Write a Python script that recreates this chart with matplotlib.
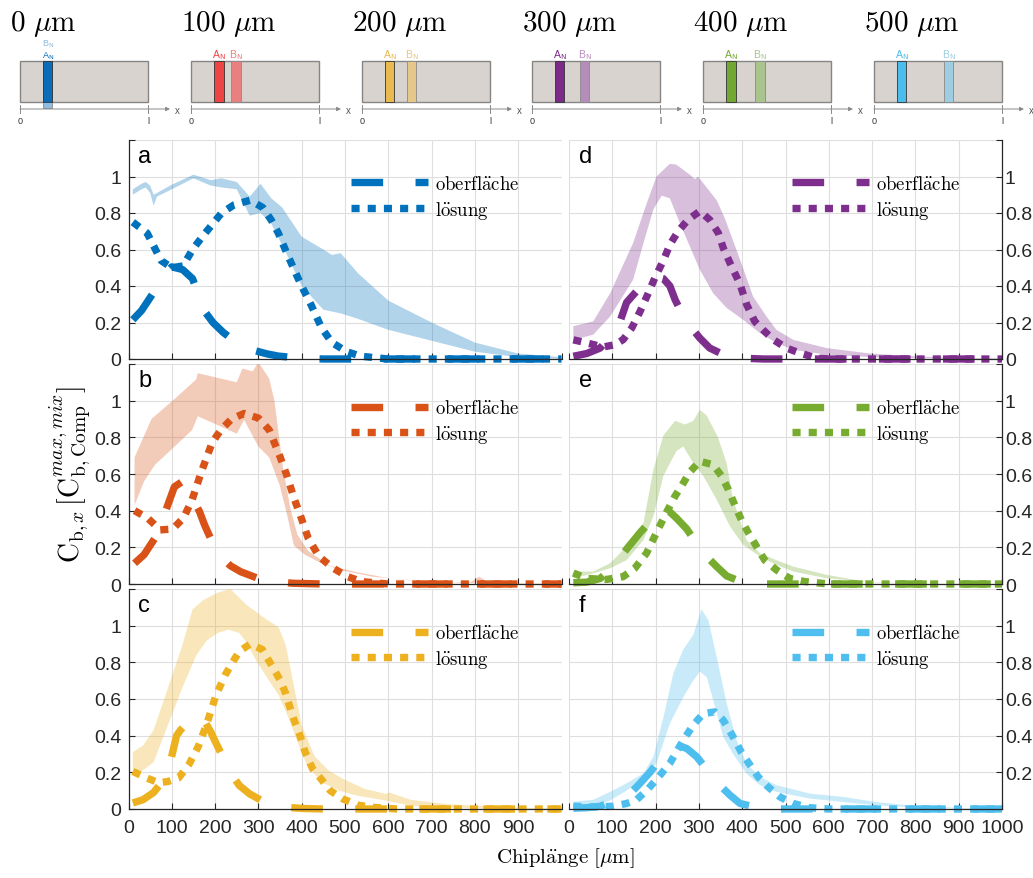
import numpy as np
import matplotlib
matplotlib.use("Agg")
import matplotlib.pyplot as plt
from matplotlib.patches import Rectangle

plt.rcParams["font.family"] = ["Liberation Sans", "DejaVu Sans"]
plt.rcParams["mathtext.fontset"] = "cm"

# ---------------- data ----------------
colors = ["#0072BD", "#D95319", "#EDB120", "#7E2F8E", "#77AC30", "#4DBEEE"]
letters = ["a", "b", "c", "d", "e", "f"]

# panel a
band_x_hi_a = [10, 30, 40, 50, 58, 66, 100, 150, 190, 215, 250, 280, 305, 330, 355, 400, 450, 470, 490, 530, 600, 700, 800, 900, 1000]
band_hi_a = [0.93, 0.96, 0.97, 0.95, 0.90, 0.91, 0.955, 1.01, 0.98, 0.99, 0.97, 0.89, 0.96, 0.88, 0.83, 0.67, 0.60, 0.57, 0.58, 0.47, 0.32, 0.20, 0.09, 0.03, 0.01]
band_x_lo_a = [10, 30, 40, 50, 58, 66, 100, 150, 190, 215, 250, 280, 305, 330, 360, 400, 450, 490, 530, 600, 700, 800, 900, 1000]
band_lo_a = [0.90, 0.93, 0.94, 0.91, 0.84, 0.89, 0.93, 0.99, 0.95, 0.94, 0.93, 0.785, 0.80, 0.74, 0.60, 0.40, 0.27, 0.25, 0.22, 0.16, 0.10, 0.04, 0.01, 0.0]
surf_x_a = [10, 30, 58, 80, 100, 125, 148, 160, 173, 195, 219, 250, 285, 320, 346, 400, 450, 1000]
surf_a = [0.215, 0.265, 0.365, 0.46, 0.505, 0.49, 0.44, 0.36, 0.27, 0.20, 0.145, 0.09, 0.05, 0.028, 0.016, 0.004, 0.0, 0.0]
sol_x_a = [10, 43, 58, 75, 100, 126, 148, 172, 215, 244, 281, 310, 330, 346, 362, 375, 392, 404, 421, 446, 470, 504, 537, 600, 1000]
sol_a = [0.75, 0.69, 0.62, 0.54, 0.50, 0.51, 0.60, 0.675, 0.80, 0.845, 0.87, 0.83, 0.76, 0.69, 0.60, 0.53, 0.44, 0.38, 0.30, 0.17, 0.09, 0.04, 0.015, 0.0, 0.0]

# panel b
band_x_hi_b = [14, 53, 102, 156, 160, 250, 263, 287, 300, 325, 337, 357, 374, 390, 415, 465, 522, 605, 700, 790, 810, 830, 900, 1000]
band_hi_b = [0.69, 0.90, 1.00, 1.115, 1.15, 1.10, 1.175, 1.16, 1.21, 1.12, 1.0, 0.63, 0.41, 0.27, 0.18, 0.10, 0.067, 0.03, 0.013, 0.01, 0.04, 0.01, 0.005, 0.0]
band_x_lo_b = [14, 36, 61, 102, 147, 160, 250, 267, 300, 325, 349, 366, 382, 407, 440, 489, 563, 650, 800, 1000]
band_lo_b = [0.43, 0.56, 0.65, 0.74, 0.84, 0.915, 0.82, 0.895, 0.75, 0.69, 0.54, 0.38, 0.21, 0.16, 0.12, 0.076, 0.04, 0.02, 0.005, 0.0]
surf_x_b = [14, 36, 61, 86, 106, 125, 147, 164, 176, 195, 209, 235, 259, 300, 333, 380, 450, 1000]
surf_b = [0.113, 0.16, 0.25, 0.40, 0.53, 0.56, 0.47, 0.395, 0.32, 0.22, 0.16, 0.10, 0.067, 0.03, 0.013, 0.004, 0.0, 0.0]
sol_x_b = [14, 44, 73, 102, 127, 147, 168, 193, 213, 238, 267, 300, 325, 349, 366, 382, 399, 415, 440, 473, 506, 539, 600, 1000]
sol_b = [0.40, 0.36, 0.295, 0.30, 0.36, 0.46, 0.61, 0.77, 0.84, 0.90, 0.93, 0.905, 0.84, 0.70, 0.59, 0.47, 0.36, 0.25, 0.15, 0.086, 0.04, 0.013, 0.0, 0.0]

# panel c
band_x_hi_c = [10, 33, 58, 91, 124, 148, 173, 206, 235, 272, 309, 347, 363, 380, 400, 429, 462, 495, 545, 594, 602, 652, 734, 800, 900, 1000]
band_hi_c = [0.31, 0.345, 0.43, 0.66, 0.89, 1.09, 1.14, 1.18, 1.20, 1.115, 1.05, 0.99, 0.895, 0.695, 0.457, 0.29, 0.21, 0.165, 0.11, 0.082, 0.09, 0.05, 0.027, 0.018, 0.008, 0.0]
band_x_lo_c = [10, 33, 58, 91, 124, 157, 181, 206, 231, 256, 272, 297, 322, 347, 371, 396, 412, 446, 487, 528, 594, 652, 700, 800, 900, 1000]
band_lo_c = [0.20, 0.21, 0.256, 0.457, 0.66, 0.84, 0.92, 0.96, 0.978, 0.96, 0.91, 0.80, 0.71, 0.62, 0.49, 0.33, 0.24, 0.146, 0.10, 0.073, 0.046, 0.018, 0.01, 0.003, 0.0, 0.0]
surf_x_c = [10, 33, 58, 83, 99, 111, 120, 150, 173, 190, 202, 235, 256, 280, 320, 347, 400, 450, 1000]
surf_c = [0.033, 0.05, 0.09, 0.165, 0.28, 0.40, 0.43, 0.51, 0.49, 0.42, 0.36, 0.20, 0.128, 0.082, 0.03, 0.013, 0.003, 0.0, 0.0]
sol_x_c = [10, 41, 70, 91, 116, 140, 161, 181, 202, 223, 239, 256, 281, 309, 330, 351, 363, 380, 396, 408, 425, 446, 466, 495, 528, 560, 620, 1000]
sol_c = [0.205, 0.17, 0.143, 0.15, 0.17, 0.245, 0.34, 0.466, 0.62, 0.73, 0.795, 0.86, 0.90, 0.87, 0.786, 0.70, 0.63, 0.50, 0.40, 0.31, 0.22, 0.16, 0.10, 0.055, 0.022, 0.01, 0.0, 0.0]

# panel d
band_x_hi_d = [10, 56, 95, 148, 179, 202, 233, 248, 279, 291, 298, 341, 360, 395, 425, 456, 479, 518, 595, 695, 800, 900, 1000]
band_hi_d = [0.18, 0.206, 0.36, 0.635, 0.85, 1.0, 1.07, 1.065, 1.01, 0.985, 1.0, 0.87, 0.77, 0.545, 0.343, 0.233, 0.16, 0.105, 0.06, 0.03, 0.015, 0.005, 0.003]
band_x_lo_d = [10, 56, 95, 148, 172, 195, 214, 233, 256, 279, 302, 333, 364, 402, 441, 479, 518, 595, 700, 800, 900, 1000]
band_lo_d = [0.105, 0.133, 0.233, 0.434, 0.635, 0.82, 0.895, 0.88, 0.745, 0.617, 0.49, 0.36, 0.28, 0.215, 0.142, 0.088, 0.05, 0.024, 0.01, 0.005, 0.0, 0.0]
surf_x_d = [10, 41, 72, 95, 118, 133, 148, 175, 202, 218, 233, 245, 265, 283, 302, 325, 360, 402, 450, 1000]
surf_d = [0.015, 0.03, 0.06, 0.12, 0.206, 0.31, 0.35, 0.42, 0.45, 0.44, 0.40, 0.325, 0.23, 0.17, 0.115, 0.06, 0.02, 0.004, 0.0, 0.0]
sol_x_d = [10, 41, 79, 106, 125, 145, 164, 183, 198, 218, 233, 252, 275, 302, 325, 345, 356, 372, 395, 410, 429, 448, 472, 502, 533, 572, 620, 1000]
sol_d = [0.105, 0.088, 0.066, 0.078, 0.106, 0.17, 0.26, 0.36, 0.443, 0.54, 0.626, 0.70, 0.763, 0.81, 0.763, 0.69, 0.61, 0.525, 0.41, 0.30, 0.206, 0.16, 0.106, 0.06, 0.033, 0.005, 0.0, 0.0]

# panel e
band_x_hi_e = [10, 56, 95, 133, 172, 195, 218, 245, 268, 287, 302, 318, 344, 364, 379, 410, 441, 479, 518, 595, 672, 710, 800, 1000]
band_hi_e = [0.068, 0.068, 0.113, 0.205, 0.333, 0.625, 0.81, 0.89, 0.87, 0.89, 0.95, 0.92, 0.80, 0.66, 0.46, 0.24, 0.168, 0.13, 0.095, 0.05, 0.018, 0.007, 0.002, 0.0]
band_x_lo_e = [10, 56, 95, 133, 172, 195, 218, 248, 264, 287, 310, 341, 372, 402, 441, 479, 518, 595, 700, 800, 900, 1000]
band_lo_e = [0.031, 0.058, 0.086, 0.13, 0.24, 0.37, 0.59, 0.725, 0.75, 0.66, 0.59, 0.46, 0.314, 0.214, 0.15, 0.104, 0.068, 0.031, 0.01, 0.003, 0.0, 0.0]
surf_x_e = [10, 41, 72, 100, 133, 164, 195, 225, 248, 272, 295, 318, 341, 364, 400, 450, 1000]
surf_e = [0.007, 0.01, 0.03, 0.09, 0.19, 0.28, 0.36, 0.41, 0.36, 0.30, 0.22, 0.15, 0.095, 0.044, 0.01, 0.0, 0.0]
sol_x_e = [10, 41, 87, 125, 152, 179, 202, 225, 245, 260, 279, 302, 333, 352, 368, 383, 398, 414, 433, 452, 479, 510, 545, 600, 1000]
sol_e = [0.06, 0.03, 0.025, 0.04, 0.086, 0.168, 0.28, 0.39, 0.48, 0.535, 0.61, 0.67, 0.65, 0.59, 0.515, 0.43, 0.35, 0.28, 0.205, 0.13, 0.077, 0.03, 0.013, 0.0, 0.0]

# panel f
band_x_hi_f = [10, 56, 95, 133, 172, 195, 218, 241, 264, 287, 306, 322, 341, 364, 387, 410, 441, 479, 556, 633, 710, 787, 900, 1000]
band_hi_f = [0.04, 0.05, 0.093, 0.14, 0.195, 0.285, 0.50, 0.74, 0.87, 0.95, 1.09, 1.03, 0.83, 0.577, 0.376, 0.248, 0.175, 0.13, 0.084, 0.066, 0.038, 0.02, 0.006, 0.0]
band_x_lo_f = [10, 56, 95, 133, 172, 202, 233, 264, 287, 302, 318, 333, 356, 379, 410, 441, 479, 556, 633, 710, 800, 900, 1000]
band_lo_f = [0.011, 0.015, 0.047, 0.10, 0.166, 0.248, 0.467, 0.61, 0.70, 0.75, 0.72, 0.595, 0.394, 0.30, 0.193, 0.13, 0.093, 0.057, 0.038, 0.02, 0.008, 0.002, 0.0]
surf_x_f = [10, 41, 72, 110, 145, 164, 187, 210, 233, 248, 272, 295, 320, 348, 372, 395, 450, 1000]
surf_f = [0.004, 0.007, 0.015, 0.05, 0.093, 0.14, 0.20, 0.27, 0.32, 0.35, 0.33, 0.285, 0.21, 0.13, 0.075, 0.03, 0.0, 0.0]
sol_x_f = [10, 56, 102, 133, 156, 183, 210, 233, 264, 287, 310, 337, 356, 379, 398, 418, 437, 460, 487, 518, 556, 600, 1000]
sol_f = [0.015, 0.011, 0.015, 0.03, 0.05, 0.11, 0.184, 0.25, 0.376, 0.458, 0.52, 0.53, 0.485, 0.394, 0.31, 0.24, 0.175, 0.12, 0.066, 0.03, 0.007, 0.0, 0.0]

# schematic strip
titles = [r"$0\ \mu\mathrm{m}$", r"$100\ \mu\mathrm{m}$", r"$200\ \mu\mathrm{m}$",
          r"$300\ \mu\mathrm{m}$", r"$400\ \mu\mathrm{m}$", r"$500\ \mu\mathrm{m}$"]
a_colors = ["#0B6DB7", "#EF4444", "#E8BA50", "#7B2B87", "#72A832", "#4BBCEC"]
b_colors = ["#8EBCE2", "#E98080", "#E6C78A", "#B48DBA", "#A9C48C", "#9ECCE0"]
b_offset = [23, 40, 45, 48, 52, 70]   # px from channel start

panels = [
    (band_x_hi_a, band_hi_a, band_x_lo_a, band_lo_a, surf_x_a, surf_a, sol_x_a, sol_a),
    (band_x_hi_b, band_hi_b, band_x_lo_b, band_lo_b, surf_x_b, surf_b, sol_x_b, sol_b),
    (band_x_hi_c, band_hi_c, band_x_lo_c, band_lo_c, surf_x_c, surf_c, sol_x_c, sol_c),
    (band_x_hi_d, band_hi_d, band_x_lo_d, band_lo_d, surf_x_d, surf_d, sol_x_d, sol_d),
    (band_x_hi_e, band_hi_e, band_x_lo_e, band_lo_e, surf_x_e, surf_e, sol_x_e, sol_e),
    (band_x_hi_f, band_hi_f, band_x_lo_f, band_lo_f, surf_x_f, surf_f, sol_x_f, sol_f),
]

# ---------------- layout ----------------
W, H = 1033, 879
fig = plt.figure(figsize=(W / 100, H / 100), dpi=100)


def box(l, t, r, b):
    return [l / W, 1 - b / H, (r - l) / W, (b - t) / H]


cols = [(128.5, 561.5), (569, 1002)]
rows = [(141, 360), (365, 585), (590, 810)]
ink = "#262626"
lw = 5.3

for k, data in enumerate(panels):
    ci, ri = divmod(k, 3)
    l, r = cols[ci]
    t, b = rows[ri]
    ax = fig.add_axes(box(l, t, r, b))
    xh, yh, xl, yl, xs, ys, xo, yo = data
    c = colors[k]

    ax.fill(np.concatenate([xh, xl[::-1]]), np.concatenate([yh, yl[::-1]]),
            color=c, alpha=0.3, lw=0)
    ax.plot(xs, ys, color=c, lw=lw, linestyle=(0, (4.3, 4.4)), clip_on=False,
            label=r"$\mathrm{oberfl\ddot{a}che}$")
    ax.plot(xo, yo, color=c, lw=lw, linestyle=(0, (1.1, 1.1)), clip_on=False,
            label=r"$\mathrm{l\ddot{o}sung}$")

    ax.set_xlim(0, 1000)
    ax.set_ylim(0, 1.2)
    ax.set_xticks(range(0, 1001, 100))
    ax.set_yticks([0, 0.2, 0.4, 0.6, 0.8, 1.0, 1.2])
    yl_labels = ["0", "0.2", "0.4", "0.6", "0.8", "1", ""]
    if ri == 2 and ci == 1:
        yl_labels[0] = ""
    ax.set_yticklabels(yl_labels)
    if ri == 2:
        xl_labels = [str(v) for v in range(0, 1001, 100)]
        if ci == 0:
            xl_labels[-1] = ""
        ax.set_xticklabels(xl_labels)
    else:
        ax.set_xticklabels([])
    ax.grid(True, color="#dedede", lw=0.8)
    ax.set_axisbelow(True)
    ax.tick_params(direction="in", length=4, width=0.8, colors=ink, labelsize=14)
    ax.tick_params(axis="x", pad=7)
    for s in ax.spines.values():
        s.set_color(ink)
        s.set_linewidth(0.9)
    ax.spines["top"].set_visible(False)
    if ci == 0:
        ax.spines["right"].set_visible(False)
        ax.tick_params(axis="y", pad=5)
    else:
        ax.spines["left"].set_visible(False)
        ax.yaxis.tick_right()
        ax.tick_params(axis="y", pad=2)

    ax.text(0.022, 0.9, letters[k], transform=ax.transAxes, fontsize=17,
            color="black", va="baseline", ha="left")
    ax.legend(loc="upper left", bbox_to_anchor=(0.515, 0.84), frameon=False,
              handlelength=4.1, handletextpad=0.37, labelspacing=0.3,
              borderpad=0, borderaxespad=0, fontsize=13.5)

fig.text(71 / W, 1 - 474 / H,
         r"$\mathrm{C}_{\mathrm{b},x}\,[\mathrm{C}_{\mathrm{b,Comp}}^{max,mix}]$",
         rotation=90, ha="center", va="center", fontsize=20)
fig.text(565 / W, 1 - 858 / H, r"$\mathrm{Chipl\ddot{a}nge}\ [\mu\mathrm{m}]$",
         ha="center", va="center", fontsize=15)

# ---------------- schematic strip ----------------
starts = [20, 191, 362, 532, 703, 874]
for i, L in enumerate(starts):
    sx = fig.add_axes(box(L - 15, 0, L + 172, 130))
    sx.set_xlim(L - 15, L + 172)
    sx.set_ylim(130, 0)
    sx.axis("off")
    sx.add_patch(Rectangle((L, 62), 128, 41, fc="#D8D3CE", ec="#858585", lw=1))
    bh = 47 if i == 0 else 41
    sx.add_patch(Rectangle((L + b_offset[i], 62), 9.5, bh, fc=b_colors[i],
                           ec="#8a8a8a", lw=0.6))
    sx.add_patch(Rectangle((L + 23, 62), 9.5, 41, fc=a_colors[i], ec="#333333", lw=0.6))
    if i == 0:
        sx.text(L + 27.7, 46.5, r"B$_\mathrm{N}$", color=b_colors[i], fontsize=6.5,
                ha="center", va="baseline", math_fontfamily="dejavusans")
        sx.text(L + 27.7, 59, r"A$_\mathrm{N}$", color=a_colors[i], fontsize=6.5,
                ha="center", va="baseline", math_fontfamily="dejavusans")
    else:
        sx.text(L + b_offset[i] + 4.7, 58, r"B$_\mathrm{N}$", color=b_colors[i],
                fontsize=7.5, ha="center", va="baseline", math_fontfamily="dejavusans")
        sx.text(L + 27.7, 58, r"A$_\mathrm{N}$", color=a_colors[i], fontsize=7.5,
                ha="center", va="baseline", math_fontfamily="dejavusans")
    sx.annotate("", xy=(L + 150, 110), xytext=(L, 110),
                arrowprops=dict(arrowstyle="-|>", color="#8a8a8a", lw=0.7,
                                mutation_scale=6, shrinkA=0, shrinkB=0))
    sx.plot([L, L], [106, 114], color="#8a8a8a", lw=0.7)
    sx.plot([L + 128, L + 128], [106, 114], color="#8a8a8a", lw=0.7)
    sx.text(L + 157, 111, "x", fontsize=7, color="#555555", ha="center", va="center")
    sx.text(L, 122, "0", fontsize=6.5, color="#333333", ha="center", va="center")
    sx.text(L + 128, 122, "l", fontsize=6.5, color="#333333", ha="center", va="center")
    sx.text(L - 10, 31, titles[i], fontsize=21, ha="left", va="baseline", color="black")

fig.savefig("out.png", dpi=100)
